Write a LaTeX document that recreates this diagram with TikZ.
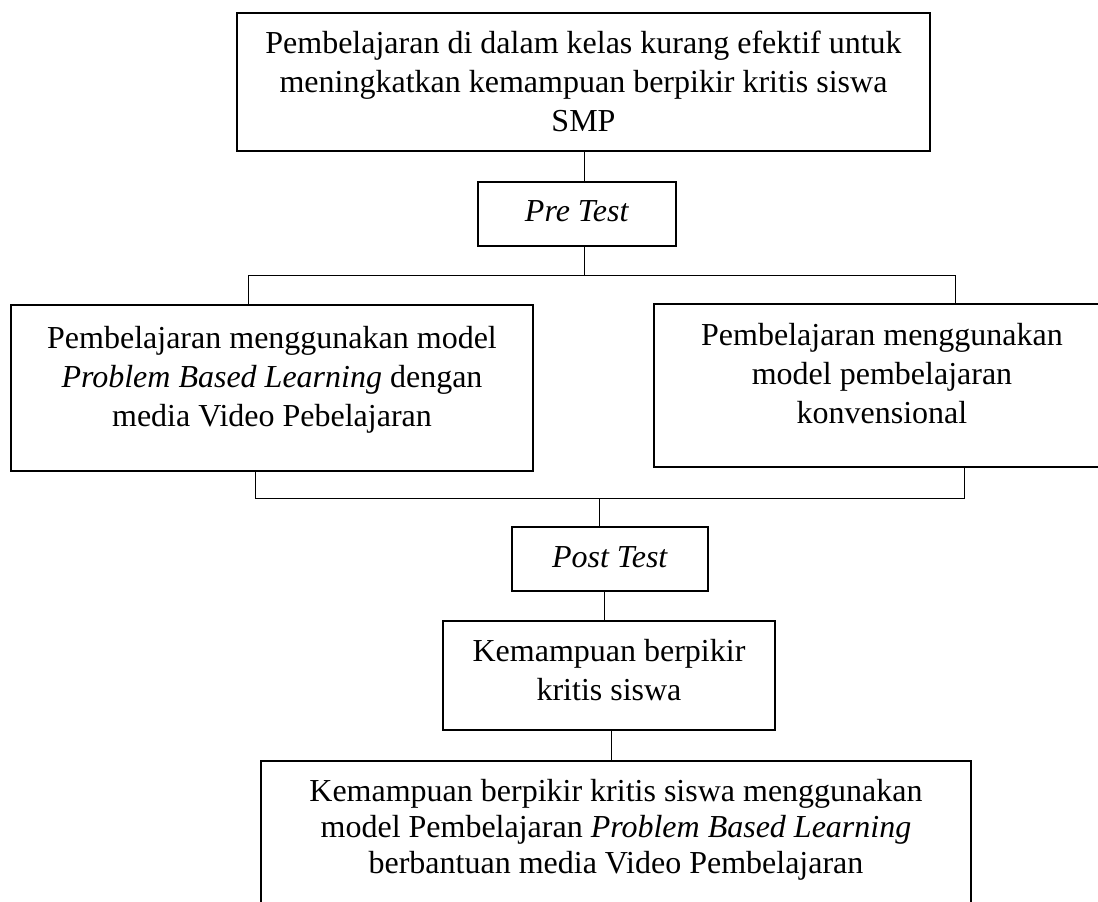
\documentclass[tikz,border=0pt]{standalone}
\usepackage{fontspec}
\setmainfont{Liberation Serif}
\begin{document}
\begin{tikzpicture}[x=1pt,y=-1pt,
  box/.style={draw=black, line width=2.2pt, inner sep=0pt, outer sep=0pt},
  conn/.style={draw=black, line width=1pt},
  txt/.style={align=center, inner sep=0pt, font=\fontsize{32}{39}\selectfont},
  txtb/.style={align=center, inner sep=0pt, font=\fontsize{32}{36}\selectfont}]
\clip (0,0) rectangle (1098,902);
\fill[white] (0,0) rectangle (1098,902);
% boxes
\node[box, minimum width=693pt, minimum height=138pt] (topbox) at (583.5,82) {};
\node[box, minimum width=198pt, minimum height=64pt] (pre) at (577,214) {};
\node[box, minimum width=522pt, minimum height=166pt] (leftbox) at (272,388) {};
\node[box, minimum width=456pt, minimum height=163pt] (rightbox) at (882,385.5) {};
\node[box, minimum width=196pt, minimum height=64pt] (post) at (610,559) {};
\node[box, minimum width=332pt, minimum height=109pt] (kem) at (609,675.5) {};
\node[box, minimum width=710pt, minimum height=150pt] (botbox) at (616,836) {};
% texts
\node[txt] (toptxt) at (583.5,81) {Pembelajaran di dalam kelas kurang efektif untuk\\meningkatkan kemampuan berpikir kritis siswa\\SMP};
\node[txt] (pretxt) at (577,211) {\textit{Pre Test}};
\node[txt] (lefttxt) at (272,379.5) {Pembelajaran menggunakan model\\\textit{Problem Based Learning} dengan\\media Video Pebelajaran};
\node[txt] (righttxt) at (882,373.5) {Pembelajaran menggunakan\\model pembelajaran\\konvensional};
\node[txt] (posttxt) at (610,557.5) {\textit{Post Test}};
\node[txt] (kemtxt) at (609,670.5) {Kemampuan berpikir\\kritis siswa};
\node[txtb] (bottxt) at (616,829.5) {Kemampuan berpikir kritis siswa menggunakan\\model Pembelajaran \textit{Problem Based Learning}\\berbantuan media Video Pembelajaran};
% connectors
\coordinate (jt) at (584,275);
\coordinate (jtl) at (248,275);
\coordinate (jtr) at (955,275);
\draw[conn] (topbox.south -| jt) -- (pre.north -| jt);
\draw[conn] (pre.south -| jt) -- (jt);
\draw[conn] (jtl |- leftbox.north) -- (jtl) -- (jtr) -- (jtr |- rightbox.north);
\coordinate (jbl) at (255,498);
\coordinate (jbr) at (964,498);
\coordinate (jb) at (599,498);
\draw[conn] (jbl |- leftbox.south) -- (jbl) -- (jbr) -- (jbr |- rightbox.south);
\draw[conn] (jb) -- (jb |- post.north);
\coordinate (xp) at (604,0);
\draw[conn] (post.south -| xp) -- (kem.north -| xp);
\coordinate (xk) at (611,0);
\draw[conn] (kem.south -| xk) -- (botbox.north -| xk);
\end{tikzpicture}
\end{document}
